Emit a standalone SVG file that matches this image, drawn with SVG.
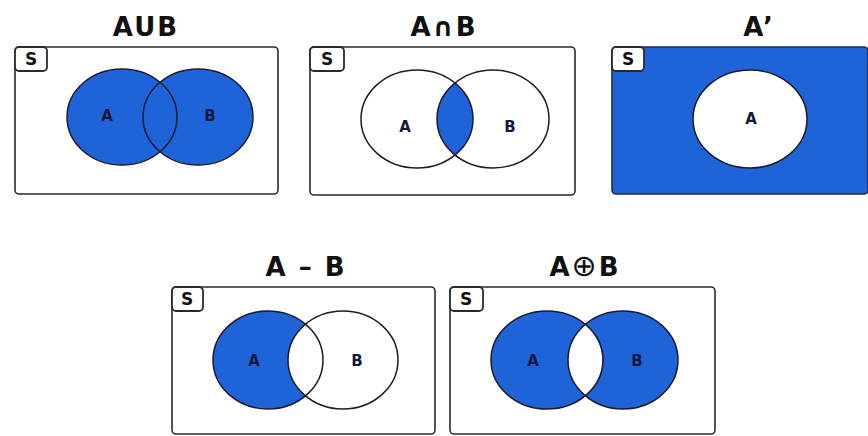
<svg xmlns="http://www.w3.org/2000/svg" width="868" height="436" viewBox="0 0 868 436">
<style>
.frame{fill:#fff;stroke:#2a2a2a;stroke-width:1.6}
.sbox{fill:#fff;stroke:#2a2a2a;stroke-width:1.8}
.slbl{font-family:"DejaVu Sans",sans-serif;font-weight:bold;font-size:17px;fill:#111;text-anchor:middle}
.title{font-family:"DejaVu Sans",sans-serif;font-weight:bold;font-size:26px;fill:#111;text-anchor:middle;letter-spacing:2px}
.lbl{font-family:"DejaVu Sans",sans-serif;font-weight:bold;font-size:15px;fill:#14183a;text-anchor:middle}
.blue{fill:#1f63d9}
.white{fill:#fff}
.ring{fill:none;stroke:#1c1c2a;stroke-width:1.5}
</style>
<g id="union">
<text class="title" x="146" y="36">AUB</text>
<rect class="frame" x="15" y="47" width="263" height="147" rx="4"/>
<ellipse class="blue" cx="122" cy="117" rx="55" ry="48"/>
<ellipse class="blue" cx="198" cy="117" rx="55" ry="48"/>
<ellipse class="ring" cx="122" cy="117" rx="55" ry="48"/>
<ellipse class="ring" cx="198" cy="117" rx="55" ry="48"/>
<rect class="sbox" x="15" y="47" width="32" height="24" rx="4"/>
<text class="slbl" x="31" y="65">S</text>
<text class="lbl" x="107" y="121">A</text>
<text class="lbl" x="210" y="121">B</text>
</g>
<g id="intersection">
<text class="title" x="444" y="36">A∩B</text>
<rect class="frame" x="310" y="47" width="265" height="148" rx="4"/>
<path class="blue" d="M455 83 A56 49 0 0 1 455 155 A56 49 0 0 1 455 83 Z"/>
<ellipse class="ring" cx="417" cy="119" rx="56" ry="49"/>
<ellipse class="ring" cx="493" cy="119" rx="56" ry="49"/>
<rect class="sbox" x="310" y="47" width="34" height="24" rx="4"/>
<text class="slbl" x="327" y="65">S</text>
<text class="lbl" x="405" y="132">A</text>
<text class="lbl" x="510" y="132">B</text>
</g>
<g id="complement">
<text class="title" x="759" y="36">A’</text>
<rect x="612" y="47" width="256" height="147" rx="4" fill="#1f63d9" stroke="#1a2a50" stroke-width="1.6"/>
<ellipse cx="750" cy="119" rx="57" ry="49" fill="#fff" stroke="#1c1c2a" stroke-width="1.5"/>
<rect class="sbox" x="612" y="47" width="32" height="24" rx="4"/>
<text class="slbl" x="628" y="65">S</text>
<text class="lbl" x="751" y="124">A</text>
</g>
<g id="difference">
<text class="title" x="306" y="276">A – B</text>
<rect class="frame" x="172" y="287" width="263" height="147" rx="4"/>
<ellipse class="blue" cx="268" cy="360" rx="55" ry="49"/>
<path class="white" d="M305.5 324.2 A55 49 0 0 1 305.5 395.8 A55 49 0 0 1 305.5 324.2 Z"/>
<ellipse class="ring" cx="268" cy="360" rx="55" ry="49"/>
<ellipse class="ring" cx="343" cy="360" rx="55" ry="49"/>
<rect class="sbox" x="172" y="287" width="31" height="24" rx="4"/>
<text class="slbl" x="187" y="305">S</text>
<text class="lbl" x="254" y="366">A</text>
<text class="lbl" x="357" y="366">B</text>
</g>
<g id="symdiff">
<text class="title" x="585" y="276">A<tspan font-weight="normal" font-size="30">⊕</tspan>B</text>
<rect class="frame" x="450" y="287" width="265" height="147" rx="4"/>
<ellipse class="blue" cx="547" cy="360" rx="56" ry="49"/>
<ellipse class="blue" cx="623" cy="360" rx="55" ry="49"/>
<path class="white" d="M585 324.6 A56 49 0 0 1 585 395.4 A55 49 0 0 1 585 324.6 Z"/>
<ellipse class="ring" cx="547" cy="360" rx="56" ry="49"/>
<ellipse class="ring" cx="623" cy="360" rx="55" ry="49"/>
<rect class="sbox" x="450" y="287" width="33" height="24" rx="4"/>
<text class="slbl" x="466" y="305">S</text>
<text class="lbl" x="533" y="366">A</text>
<text class="lbl" x="637" y="366">B</text>
</g>
<g id="connectors"/>
</svg>
